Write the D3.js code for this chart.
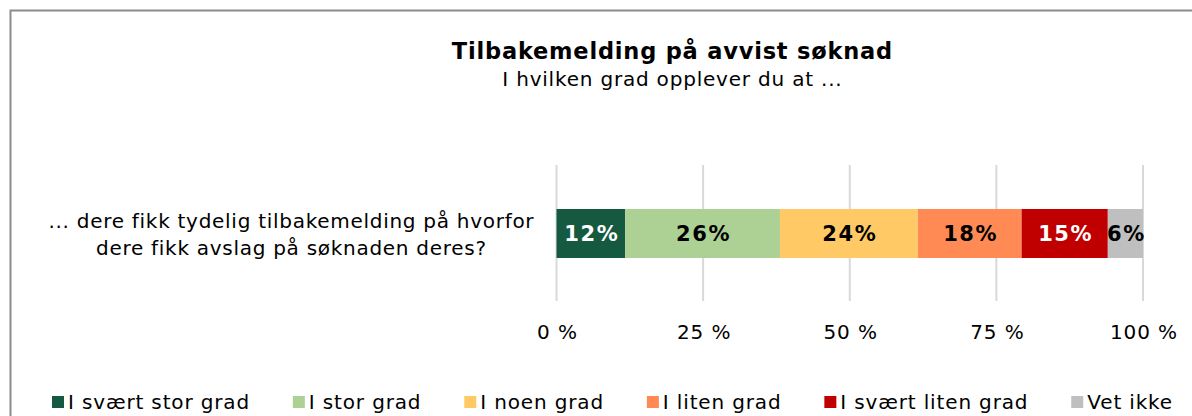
<!DOCTYPE html>
<html><head><meta charset="utf-8">
<script src="https://cdn.jsdelivr.net/npm/d3@7"></script>
<style>body{margin:0;background:#fff}svg{display:block}text{font-family:"DejaVu Sans",Verdana,sans-serif}</style>
</head><body>
<svg id="c" width="1192" height="416"></svg>
<script>
const categories = ["... dere fikk tydelig tilbakemelding på hvorfor|dere fikk avslag på søknaden deres?"];
const seriesNames = ["I svært stor grad","I stor grad","I noen grad","I liten grad","I svært liten grad","Vet ikke"];
const seriesValues = [11.7, 26.4, 23.5, 17.7, 14.7, 6.0];
const seriesLabels = ["12%","26%","24%","18%","15%","6%"];
const seriesColors = ["#155A40","#ADD095","#FFCA65","#FF8A54","#C00000","#BFBFBF"];
const labelColors = ["#fff","#000","#000","#000","#fff","#000"];
const tickValues = [0,25,50,75,100];
const tickLabels = ["0 %","25 %","50 %","75 %","100 %"];

const svg = d3.select("#c");
svg.append("path").attr("d","M10.5,416 L10.5,10.5 L1192,10.5").attr("fill","none").attr("stroke","#8c8c8c").attr("stroke-width",2);

svg.append("text").attr("x",672.4).attr("y",59).attr("text-anchor","middle").attr("font-weight","bold").attr("font-size",22.5).attr("letter-spacing",0.8).text("Tilbakemelding på avvist søknad");
svg.append("text").attr("x",672.4).attr("y",86).attr("text-anchor","middle").attr("font-size",20).attr("letter-spacing",0.8).text("I hvilken grad opplever du at ...");

const x = d3.scaleLinear().domain([0,100]).range([556.5,1143]);
const y = d3.scaleBand().domain(categories).range([209,258]).padding(0);

svg.append("g").selectAll("line").data(tickValues).join("line")
  .attr("x1",d=>x(d)).attr("x2",d=>x(d)).attr("y1",165).attr("y2",301)
  .attr("stroke","#d9d9d9").attr("stroke-width",2);

const ax = svg.append("g").attr("transform","translate(0,301)")
  .call(d3.axisBottom(x).tickValues(tickValues).tickFormat((d,i)=>tickLabels[i]).tickSize(0).tickPadding(0));
ax.select(".domain").remove();
ax.selectAll("text").attr("font-size",20).attr("fill","#000").attr("dy",0).attr("y",38).attr("dx",0.45)
  .attr("letter-spacing",0.9).style("font-family",'"DejaVu Sans",Verdana,sans-serif');

const stacked = [];
let acc = 0;
seriesValues.forEach((v,i)=>{stacked.push({i,x0:acc,x1:acc+v,v}); acc+=v;});
const cat = categories[0];
const g = svg.append("g");
g.selectAll("rect").data(stacked).join("rect")
  .attr("x",d=>x(d.x0)).attr("width",d=>x(d.x1)-x(d.x0))
  .attr("y",y(cat)).attr("height",y.bandwidth())
  .attr("fill",d=>seriesColors[d.i]);
g.selectAll("text").data(stacked).join("text")
  .attr("x",d=>(x(d.x0)+x(d.x1))/2+1).attr("y",y(cat)+y.bandwidth()/2+7.5)
  .attr("text-anchor","middle").attr("font-weight","bold").attr("font-size",21).attr("letter-spacing",1.6)
  .attr("fill",d=>labelColors[d.i]).text(d=>seriesLabels[d.i]);

const lines = cat.split("|");
const ct = svg.append("text").attr("text-anchor","middle").attr("font-size",20).attr("letter-spacing",0.72);
lines.forEach((l,k)=>ct.append("tspan").attr("x",291.4).attr("y",228+k*26.5).text(l));

const lg = svg.append("g");
const items = lg.selectAll("g").data(seriesNames).join("g");
items.append("rect").attr("width",12).attr("height",12).attr("y",396).attr("fill",(d,i)=>seriesColors[i]);
items.append("text").attr("x",16).attr("y",409).attr("font-size",20).attr("letter-spacing",0.85).text(d=>d);
const widths = [];
items.each(function(){widths.push(this.getBBox().width);});
const totalW = widths.reduce((a,b)=>a+b,0);
const gap = (1173-52-totalW)/(seriesNames.length-1);
let cx = 52;
items.attr("transform",(d,i)=>{const t=`translate(${cx},0)`; cx+=widths[i]+gap; return t;});
</script>
</body></html>
